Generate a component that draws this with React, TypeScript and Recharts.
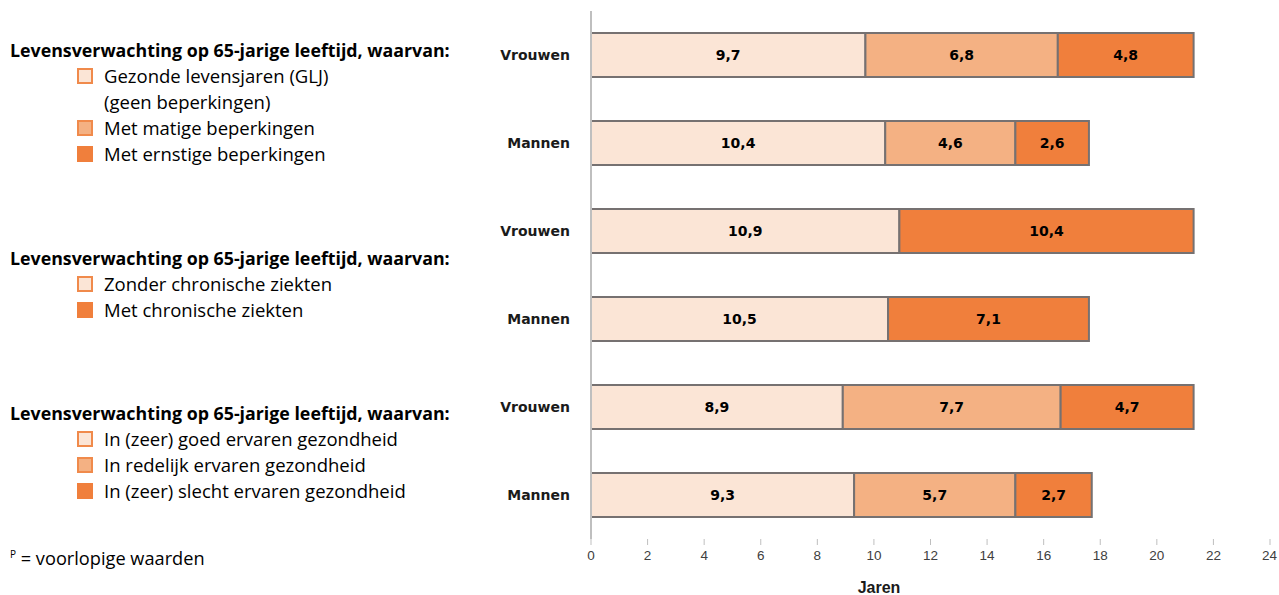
import React from 'react';
import { BarChart, Bar, XAxis, YAxis, LabelList, Cell } from 'recharts';

const rowLabels = ['Vrouwen', 'Mannen', 'Vrouwen', 'Mannen', 'Vrouwen', 'Mannen'];
const segment1 = [9.7, 10.4, 10.9, 10.5, 8.9, 9.3];
const segment2 = [6.8, 4.6, 10.4, 7.1, 7.7, 5.7];
const segment3 = [4.8, 2.6, 0, 0, 4.7, 2.7];
const xTicks = [0, 2, 4, 6, 8, 10, 12, 14, 16, 18, 20, 22, 24];

const legendGroups = [
  {
    title: 'Levensverwachting op 65-jarige leeftijd, waarvan:',
    items: [
      ['Gezonde levensjaren (GLJ)', '(geen beperkingen)'],
      ['Met matige beperkingen'],
      ['Met ernstige beperkingen'],
    ],
    kinds: ['light', 'mid', 'dark'],
  },
  {
    title: 'Levensverwachting op 65-jarige leeftijd, waarvan:',
    items: [['Zonder chronische ziekten'], ['Met chronische ziekten']],
    kinds: ['light', 'dark'],
  },
  {
    title: 'Levensverwachting op 65-jarige leeftijd, waarvan:',
    items: [
      ['In (zeer) goed ervaren gezondheid'],
      ['In redelijk ervaren gezondheid'],
      ['In (zeer) slecht ervaren gezondheid'],
    ],
    kinds: ['light', 'mid', 'dark'],
  },
];
const legendTops = [37, 245, 400];

const COLORS: Record<string, string> = { light: '#FBE5D6', mid: '#F4B183', dark: '#F07F3C' };
const STROKE = '#767171';
const LEGEND_FONT = 'Open Sans';

const data = rowLabels.map((label, i) => ({
  id: `r${i}`,
  label,
  s1: segment1[i],
  s2: segment2[i],
  s3: segment3[i],
}));

const fmt = (v: any) => (v ? String(v).replace('.', ',') : '');

const labelStyle = { fontFamily: 'DejaVu Sans', fontWeight: 700, fontSize: 14, fill: '#000' };

const LegendSwatch = ({ kind }: { kind: string }) => (
  <span
    style={{
      position: 'absolute',
      left: -27,
      top: 5,
      width: 12,
      height: 12,
      background: COLORS[kind],
      border: `2px solid ${kind === 'dark' ? COLORS.dark : '#F08A4B'}`,
    }}
  />
);

export default function App() {
  return (
    <div style={{ position: 'absolute', left: 0, top: 0, width: 1279, height: 595, background: '#fff' }}>
      <BarChart
        width={1279}
        height={595}
        data={data}
        layout="vertical"
        margin={{ top: 11, right: 9, bottom: 0, left: 0 }}
        barCategoryGap="25%"
      >
        <XAxis
          type="number"
          domain={[0, 24]}
          ticks={xTicks}
          axisLine={false}
          tickLine={{ stroke: '#bfbfbf' }}
          tickSize={6}
          tickMargin={5}
          height={56}
          tick={{ fontFamily: 'Liberation Sans Narrow, Liberation Sans', fontSize: 13.5, fill: '#404040' }}
        />
        <YAxis
          type="category"
          dataKey="id"
          width={591}
          axisLine={{ stroke: '#bfbfbf', strokeWidth: 2 }}
          tickLine={false}
          tickSize={0}
          tickMargin={21}
          tickFormatter={(v: string) => data.find((d) => d.id === v)?.label ?? ''}
          tick={{ fontFamily: 'DejaVu Sans', fontWeight: 700, fontSize: 14, fill: '#1a1a1a' }}
        />
        <Bar dataKey="s1" stackId="a" isAnimationActive={false} fill={COLORS.light} stroke={STROKE} strokeWidth={2}>
          <LabelList dataKey="s1" position="center" formatter={fmt} style={labelStyle} />
        </Bar>
        <Bar dataKey="s2" stackId="a" isAnimationActive={false} fill={COLORS.mid} stroke={STROKE} strokeWidth={2}>
          {data.map((d) => (
            <Cell key={d.id} fill={d.s3 ? COLORS.mid : COLORS.dark} />
          ))}
          <LabelList dataKey="s2" position="center" formatter={fmt} style={labelStyle} />
        </Bar>
        <Bar dataKey="s3" stackId="a" isAnimationActive={false} fill={COLORS.dark} stroke={STROKE} strokeWidth={2}>
          <LabelList dataKey="s3" position="center" formatter={fmt} style={labelStyle} />
        </Bar>
      </BarChart>

      {legendGroups.map((g, gi) => (
        <div
          key={gi}
          style={{ position: 'absolute', left: 10, top: legendTops[gi], fontFamily: LEGEND_FONT, color: '#000' }}
        >
          <div style={{ fontWeight: 700, fontSize: 17.8, lineHeight: '26px', whiteSpace: 'nowrap' }}>{g.title}</div>
          {g.items.map((lines, ii) => (
            <div key={ii} style={{ position: 'relative', marginLeft: 94, fontSize: 18.5, lineHeight: '26px', whiteSpace: 'nowrap' }}>
              <LegendSwatch kind={g.kinds[ii]} />
              {lines.map((l, li) => (
                <div key={li}>{l}</div>
              ))}
            </div>
          ))}
        </div>
      ))}

      <div style={{ position: 'absolute', left: 10, top: 541, fontFamily: LEGEND_FONT, fontSize: 18.2, lineHeight: '26px', whiteSpace: 'nowrap' }}>
        <sup style={{ fontSize: 10 }}>P</sup> = voorlopige waarden
      </div>

      <div
        style={{
          position: 'absolute',
          left: 854,
          top: 579,
          width: 50,
          textAlign: 'center',
          fontFamily: 'Liberation Sans Narrow, Liberation Sans',
          fontWeight: 700,
          fontSize: 16,
          color: '#1a1a1a',
        }}
      >
        Jaren
      </div>
    </div>
  );
}
